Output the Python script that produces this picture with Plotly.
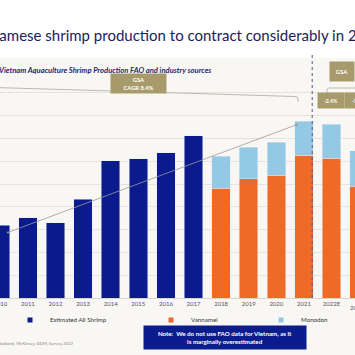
import plotly.graph_objects as go

# ---------------- data ----------------
years = ["2010", "2011", "2012", "2013", "2014", "2015", "2016", "2017",
         "2018", "2019", "2020", "2021", "2022E", "2023E"]
all_shrimp = [320, 351, 329, 434, 601, 610, 636, 711,
              None, None, None, None, None, None]
vannamei = [None] * 8 + [482, 522, 539, 627, 614, 491]
monodon = [None] * 8 + [140, 140, 145, 149, 149, 154]

series_names = ["Estimated All Shrimp", "Vannamei", "Monodon"]
series_colors = ["#0b1b8e", "#ee6a26", "#93c9e4"]

cagr_start = (0.22, 285)   # data coords (category index, value)
cagr_end = (10.8, 763)

title_text = "Vietnamese shrimp production to contract considerably in 2023"
subtitle_text = "Vietnam Aquaculture Shrimp Production FAO and industry sources"
cagr_text = "GSA<br>CAGR 8.4%"
gsa_text = "GSA"
chg_texts = ["-2.4%", "-16%"]
note_text = "Note:  We do not use FAO data for Vietnam, as it<br>is marginally overestimated"
source_text = "Sources: GSA, Rabobank, McKinsey, GDM, Survey 2022"

# ---------------- layout helpers ----------------
W = H = 355
T, B = 50, 57
PH = H - T - B
XR = [-0.01, 12.85]
YR = [0, PH / 0.228]


def px(p):
    return p / W


def py(p):
    return (H - B - p) / PH


fig = go.Figure()
fig.add_trace(go.Bar(x=years, y=all_shrimp, marker_color=series_colors[0],
                     name=series_names[0], showlegend=False))
fig.add_trace(go.Bar(x=years, y=vannamei, marker_color=series_colors[1],
                     name=series_names[1], showlegend=False))
fig.add_trace(go.Bar(x=years, y=monodon, marker_color=series_colors[2],
                     name=series_names[2], showlegend=False))

# legend entries (small square symbols), one legend each
legend_keys = ["legend", "legend2", "legend3"]
for nm, col, lk in zip(series_names, series_colors, legend_keys):
    fig.add_trace(go.Scatter(x=[None], y=[None], mode="markers", name=nm,
                             marker=dict(symbol="square", size=5, color=col),
                             legend=lk, showlegend=True))

leg_common = dict(orientation="h", yanchor="middle", xanchor="left",
                  bgcolor="rgba(0,0,0,0)", itemwidth=30,
                  font=dict(family="Lato", size=6.2, color="#333333"))
legend_x = [10, 151, 261]
for lk, lx in zip(legend_keys, legend_x):
    fig.update_layout(**{lk: dict(leg_common, x=px(lx), y=py(320))})

shapes = [
    # top white band
    dict(type="rect", xref="paper", yref="paper", x0=-0.1, x1=1.1,
         y0=py(58), y1=py(-10), fillcolor="#ffffff", line_width=0, layer="below"),
    # dotted forecast divider
    dict(type="line", xref="x", yref="paper", x0=11.3, x1=11.3,
         y0=0, y1=py(55), line=dict(color="#555a78", width=1, dash="dot")),
    # historic bracket
    dict(type="path", xref="paper", yref="paper",
         path=f"M {px(-5)},{py(87.5)} L {px(295)},{py(96.5)} "
              f"Q {px(298)},{py(96.6)} {px(298)},{py(99)} L {px(298)},{py(102)}",
         line=dict(color="#bdb8b0", width=1)),
    # forecast bracket
    dict(type="path", xref="paper", yref="paper",
         path=f"M {px(327)},{py(93)} L {px(327)},{py(90)} "
              f"Q {px(327)},{py(88)} {px(329)},{py(88)} L {px(360)},{py(88)}",
         line=dict(color="#bdb8b0", width=1)),
]

box = dict(xref="paper", yref="paper", xanchor="center", yanchor="middle",
           showarrow=False, bgcolor="#a89b6b")
annotations = [
    dict(text=title_text, xref="paper", yref="paper", x=px(-38), y=py(35),
         xanchor="left", yanchor="middle", showarrow=False,
         font=dict(family="Lato", size=15, color="#1b1c5c")),
    dict(text=f"<i><b>{subtitle_text}</b></i>", xref="paper", yref="paper",
         x=px(-3), y=py(70), xanchor="left", yanchor="middle", showarrow=False,
         font=dict(family="Lato", size=7.6, color="#1b2a6e")),
    dict(box, text=f"<b>{cagr_text}</b>", x=px(138.5), y=py(83.5), width=53, height=17,
         font=dict(family="Lato", size=5.8, color="#ffffff")),
    dict(box, text=f"<b>{gsa_text}</b>", x=px(342), y=py(71.5), width=22, height=17,
         font=dict(family="Lato", size=5.8, color="#ffffff")),
    dict(box, text=f"<b>{chg_texts[0]}</b>", x=px(331), y=py(100.5), width=24, height=13,
         font=dict(family="Lato", size=5.2, color="#ffffff")),
    dict(box, text=f"<b>{chg_texts[1]}</b>", x=px(358), y=py(100.5), width=24, height=13,
         font=dict(family="Lato", size=5.2, color="#ffffff")),
    dict(box, text=f"<b>{note_text}</b>", x=px(225), y=py(337.5), width=160, height=21,
         align="center", bgcolor="#0b1c8c",
         font=dict(family="Lato", size=6.2, color="#ffffff")),
    dict(text=source_text, xref="paper", yref="paper",
         x=px(75), y=py(343), xanchor="right", yanchor="middle", showarrow=False,
         font=dict(family="Lato", size=4.3, color="#8a8a8a")),
    # CAGR trend arrow
    dict(text="", xref="x", yref="y", axref="x", ayref="y",
         x=cagr_end[0], y=cagr_end[1], ax=cagr_start[0], ay=cagr_start[1],
         showarrow=True, arrowhead=2, arrowsize=0.8, arrowwidth=0.8,
         arrowside="end+start", startarrowhead=6, startarrowsize=0.6,
         arrowcolor="#9b9b9b"),
    # last category label partially outside the visible range
    dict(text=years[-1], xref="paper", yref="paper",
         x=(len(years) - 1 - XR[0]) / (XR[1] - XR[0]), y=py(307),
         xanchor="center", yanchor="middle", showarrow=False,
         font=dict(family="Lato", size=6, color="#555555")),
]

fig.update_layout(
    width=W, height=H,
    margin=dict(l=0, r=0, t=T, b=B, pad=0, autoexpand=False),
    paper_bgcolor="#f9f7f4", plot_bgcolor="rgba(0,0,0,0)",
    barmode="stack", bargap=0.33,
    shapes=shapes, annotations=annotations,
    xaxis=dict(type="category", range=XR, showgrid=False, zeroline=False,
               showline=True, linecolor="#d8d4ce", linewidth=1, ticks="",
               automargin=False,
               tickfont=dict(family="Lato", size=6, color="#555555")),
    yaxis=dict(range=YR, tickmode="array", tickvals=[100 * k for k in range(1, 10)],
               showticklabels=False, gridcolor="#e6e2dc", gridwidth=1,
               zeroline=False, showline=False, automargin=False),
)

fig.write_html("out.html", config={"displayModeBar": False},
               post_script="document.body.style.margin='0';")
